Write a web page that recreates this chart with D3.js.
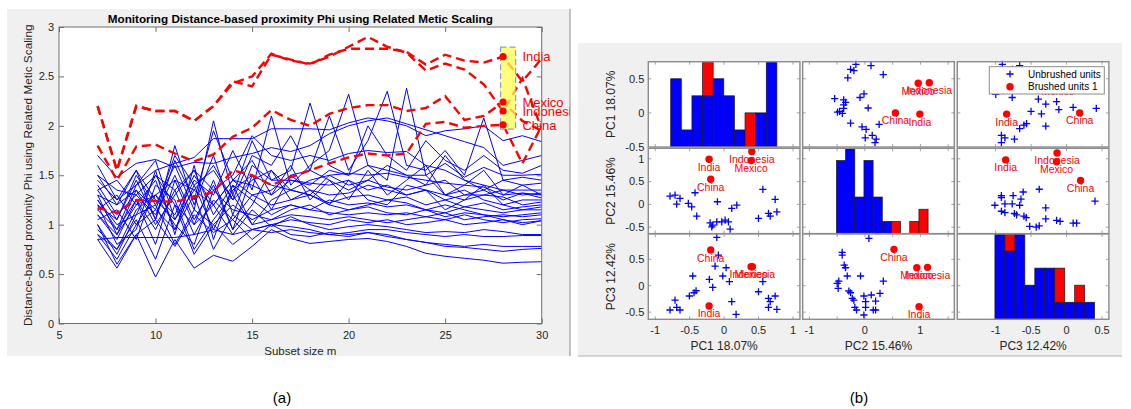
<!DOCTYPE html>
<html>
<head>
<meta charset="utf-8">
<script src="https://cdn.jsdelivr.net/npm/d3@7"></script>
<style>
  body { margin: 0; background: #fff; }
  text { font-family: "Liberation Sans", Arial, Helvetica, sans-serif; }
</style>
</head>
<body>
<svg id="fig" width="1131" height="409"></svg>
<script>
// ---------------- data: panel (a), forward search trajectories ----------------
const subsetSizes = [7, 8, 9, 10, 11, 12, 13, 14, 15, 16, 17, 18, 19, 20, 21, 22, 23, 24, 25, 26, 27, 28, 29, 30];

// unbrushed units (blue), one row per unit, values for m = 7..30
const unbrushedPhi = [
    [1.45,1.25,1.40,1.55,1.62,1.68,1.87,1.87,1.87,1.97,1.97,1.97,1.96,2.03,2.08,2.05,2.00,1.90,1.95,1.97,2.00,1.85,1.90,1.84],
    [1.70,1.48,1.62,1.66,1.58,1.63,1.62,1.68,1.72,1.78,1.74,1.80,1.92,2.00,2.05,2.08,2.02,1.96,1.90,1.84,1.78,1.60,1.65,1.70],
    [1.35,1.05,1.50,1.20,1.60,1.15,2.05,1.30,1.85,1.45,1.55,2.23,1.60,1.50,2.00,1.70,1.55,1.85,1.65,1.55,1.70,1.55,1.52,1.60],
    [1.25,0.95,1.40,1.65,1.05,1.45,1.30,1.75,1.35,2.10,1.40,1.60,1.75,2.32,1.60,1.45,2.38,1.50,1.62,1.48,1.58,1.50,1.50,1.51],
    [1.50,1.20,1.35,1.15,1.70,1.40,1.55,1.25,1.70,1.60,1.90,1.55,2.10,1.55,1.85,2.35,1.60,1.55,1.75,1.50,2.08,1.45,1.48,1.45],
    [1.40,1.10,1.30,1.50,1.35,1.55,1.35,1.50,1.90,1.70,1.65,1.70,1.65,1.72,1.75,1.73,1.74,1.60,1.55,1.45,1.40,1.35,1.35,1.35],
    [1.20,1.05,1.45,1.05,1.80,1.20,1.70,1.10,1.60,1.45,1.45,1.40,1.55,1.50,1.60,1.55,1.50,1.50,1.30,1.40,1.55,1.30,1.40,1.30],
    [1.30,0.90,1.20,1.45,0.95,1.40,0.95,1.35,1.50,1.40,1.35,1.30,1.50,1.40,1.45,1.38,1.35,1.40,1.45,1.30,1.35,1.25,1.32,1.27],
    [1.15,1.30,1.00,1.30,1.10,1.50,1.20,1.45,1.30,1.35,1.50,1.35,1.30,1.32,1.40,1.35,1.30,1.35,1.25,1.30,1.30,1.28,1.20,1.23],
    [1.10,0.85,1.25,0.95,1.35,0.90,1.25,1.05,1.30,1.20,1.25,1.30,1.22,1.28,1.30,1.25,1.28,1.20,1.25,1.18,1.22,1.15,1.18,1.20],
    [1.00,0.70,1.10,1.20,0.80,1.15,1.00,1.20,1.05,1.15,1.20,1.15,1.25,1.20,1.22,1.18,1.20,1.15,1.12,1.18,1.15,1.12,1.15,1.15],
    [0.95,0.75,1.15,1.30,1.00,0.80,1.35,1.15,1.10,1.05,1.15,1.20,1.10,1.15,1.18,1.12,1.10,1.15,1.08,1.12,1.10,1.08,1.10,1.12],
    [1.20,0.80,0.95,1.55,0.90,1.60,0.85,1.40,1.25,1.10,1.20,1.15,1.12,1.10,1.12,1.10,1.12,1.08,1.12,1.05,1.08,1.10,1.08,1.10],
    [1.05,1.15,0.85,1.40,1.25,0.75,1.05,1.30,1.00,1.05,1.10,1.08,1.05,1.08,1.05,1.02,1.05,1.08,1.05,1.10,1.05,1.02,1.05,1.06],
    [0.90,0.65,1.00,1.15,0.95,1.30,0.75,1.10,0.95,1.00,1.05,1.02,1.00,1.05,1.02,1.05,1.00,1.02,1.05,1.00,1.02,1.05,1.00,1.04],
    [1.15,0.95,1.25,0.80,1.45,1.00,1.20,0.90,1.15,0.98,1.08,1.00,0.95,0.98,1.00,0.98,0.95,0.92,0.93,0.92,0.95,0.93,0.90,0.90],
    [0.85,0.87,0.87,0.87,0.87,0.90,0.95,0.90,0.95,1.00,0.98,0.95,0.90,0.92,0.95,0.95,0.92,0.90,0.88,0.90,0.88,0.88,0.89,0.89],
    [1.00,0.60,0.90,1.05,0.78,1.10,0.92,1.05,0.85,1.00,0.90,0.88,0.92,0.90,0.92,0.88,0.85,0.82,0.80,0.78,0.80,0.78,0.78,0.78],
    [0.90,0.75,1.05,0.65,1.20,0.70,1.00,0.80,0.95,0.92,0.95,0.92,0.90,0.88,0.92,0.90,0.85,0.82,0.78,0.77,0.75,0.73,0.75,0.76],
    [0.85,0.56,0.90,0.47,0.85,0.56,0.69,0.63,0.78,0.95,0.86,0.81,0.83,0.85,0.86,0.83,0.78,0.71,0.68,0.66,0.64,0.61,0.62,0.625],
    [1.60,1.25,1.55,1.05,1.65,1.25,1.95,1.45,1.65,1.30,1.60,1.25,1.45,1.25,1.55,1.30,1.45,1.60,1.30,1.35,1.25,1.20,1.25,1.25],
    [1.25,1.00,1.10,1.50,1.20,1.00,1.45,0.95,1.20,1.55,1.25,1.35,1.20,1.45,1.25,1.20,1.40,1.35,1.15,1.25,1.40,1.20,1.15,1.18],
    [1.35,1.45,1.20,1.30,1.45,1.35,1.20,1.45,1.40,1.30,1.45,1.42,1.40,1.45,1.35,1.40,1.30,1.35,1.30,1.25,1.30,1.35,1.30,1.32],
    [1.10,0.90,1.35,1.00,1.30,1.55,1.10,1.40,1.00,1.25,1.35,1.30,1.20,1.15,1.20,1.25,1.22,1.15,1.20,1.15,1.10,1.05,1.02,1.04],
    [1.50,1.35,1.30,1.10,1.50,1.05,1.40,0.95,1.50,1.15,1.50,1.55,1.45,1.35,1.45,1.60,1.50,1.40,1.70,1.45,1.35,1.45,1.40,1.42],
    [1.30,1.20,1.55,1.25,1.05,1.35,1.60,1.25,1.45,1.55,1.35,1.45,1.50,1.52,1.50,1.52,1.48,1.45,1.42,1.40,1.38,1.30,1.32,1.30]
];

// brushed units (red dashed)
const brushedNames = ['India', 'Mexico', 'Indonesia', 'China'];
const indiaPhi     = [2.20,1.55,2.20,2.15,2.15,2.05,2.20,2.45,2.40,2.72,2.67,2.62,2.72,2.78,2.78,2.78,2.75,2.62,2.72,2.66,2.64,2.70,2.45,2.68];
const mexicoPhi    = [1.80,1.45,1.79,1.81,1.72,1.64,1.71,1.89,1.98,2.16,2.06,2.00,2.12,2.18,2.21,2.21,2.15,2.18,2.30,2.06,2.10,2.24,2.05,1.95];
const indonesiaPhi = [2.20,1.55,2.20,2.15,2.15,2.05,2.20,2.43,2.50,2.73,2.66,2.63,2.70,2.80,2.90,2.80,2.74,2.56,2.63,2.57,2.42,2.15,2.48,1.97];
const chinaPhi     = [1.17,1.12,1.25,1.24,1.23,1.28,1.33,1.55,1.50,1.40,1.48,1.55,1.62,1.68,1.72,1.70,1.72,2.02,2.04,1.98,2.00,2.01,1.62,2.00];
const brushStep = 28;
const brushRangeM = [27.87, 28.65];
const brushRangePhi = [1.966, 2.796];

// ---------------- data: panel (b), scatter matrix of principal components ----------------
const pcNames = ['PC1 18.07%', 'PC2 15.46%', 'PC3 12.42%'];

// [PC1, PC2] of the unbrushed units
const pc1pc2 = [[-0.785,0.182],[-0.712,0.204],[-0.688,0.006],[-0.640,0.132],[-0.519,0.022],[-0.470,-0.052],
    [-0.422,0.256],[-0.397,-0.258],[-0.203,-0.406],[-0.165,-0.456],[-0.179,-0.494],[-0.106,-0.382],[-0.097,0.058],
    [-0.034,-0.382],[0.015,-0.346],[0.063,-0.382],[0.087,-0.544],[0.111,-0.088],[0.184,-0.016],[0.562,0.330],
    [0.741,0.110],[0.499,-0.308],[0.644,-0.198],[0.669,-0.258],[0.766,-0.162]];
// [PC1, PC3]
const pc1pc3 = [[-0.106,0.917],[-0.083,0.581],[-0.131,0.373],[0.029,0.341],[-0.019,0.184],[0.077,0.076],
    [-0.214,0.121],[-0.165,-0.030],[-0.455,0.184],[-0.407,-0.095],[-0.436,-0.133],[-0.504,-0.195],[-0.712,-0.271],
    [-0.688,-0.409],[-0.785,-0.460],[-0.640,-0.460],[0.111,-0.303],[0.174,-0.542],[0.499,-0.114],[0.562,0.076],
    [0.644,-0.239],[0.669,-0.303],[0.741,-0.195],[0.644,-0.409],[0.766,-0.447]];
// [PC2, PC3]
const pc2pc3 = [[0.072,0.898],[-0.409,0.632],[-0.409,0.581],[-0.373,0.392],[-0.349,0.341],[-0.318,0.184],
    [-0.078,0.184],[-0.470,0.089],[-0.499,0.045],[-0.481,-0.049],[-0.289,-0.100],[-0.259,-0.133],[-0.228,-0.239],
    [-0.199,-0.271],[-0.181,-0.409],[-0.150,-0.460],[-0.018,-0.195],[0.115,-0.176],[0.013,-0.303],[0.193,-0.290],
    [0.272,-0.144],[0.332,0.089],[0.013,-0.409],[0.151,-0.460],[0.193,-0.460],[-0.018,-0.555]];

// brushed units, same order as brushedNames
const brushedPc1pc2 = [[-0.218,0.99],[0.392,0.96],[0.402,1.16],[-0.194,0.55]];
const brushedPc1pc3 = [[-0.218,-0.384],[0.392,0.36],[0.41,0.36],[-0.194,0.676]];
const brushedPc2pc3 = [[0.976,-0.398],[0.935,0.341],[1.128,0.348],[0.524,0.689]];

// histogram counts on the diagonal (10 bins each)
const histStart = [-0.775, -0.512, -1.01];
const histBinWidth = [0.1541, 0.165, 0.1405];
const histBlue = [[4,1,3,3,4,3,1,0,2,5], [6,7,3,6,3,1,0,0,0,0], [5,4,5,2,3,3,1,1,1,1]];
const histRed  = [[0,0,0,2,0,0,0,2,0,0], [0,0,0,0,0,0,1,0,1,2], [0,1,0,0,0,0,2,0,1,0]];

// ==========================================================================================
const svg = d3.select('#fig');
const defs = svg.append('defs');
const fmt = (d) => d3.format('~g')(d).replace('\u2212', '-');

// ---------------- panel (a) ----------------
const ax = {left: 59, right: 541.7, top: 27, bottom: 323.5};
const xA = d3.scaleLinear().domain([5, 30]).range([ax.left, ax.right]);
const yA = d3.scaleLinear().domain([0, 3]).range([ax.bottom, ax.top]);

const gA = svg.append('g');
gA.append('rect').attr('x', 7).attr('y', 9).attr('width', 563).attr('height', 347).attr('fill', '#f0f0f0');
gA.append('line').attr('x1', 570).attr('x2', 570).attr('y1', 9).attr('y2', 356)
    .attr('stroke', '#9c9c9c').attr('stroke-width', 1.2);
gA.append('rect').attr('x', ax.left).attr('y', ax.top)
    .attr('width', ax.right - ax.left).attr('height', ax.bottom - ax.top).attr('fill', '#fff');

defs.append('clipPath').attr('id', 'clipA').append('rect')
    .attr('x', ax.left).attr('y', ax.top).attr('width', ax.right - ax.left).attr('height', ax.bottom - ax.top);
defs.append('clipPath').attr('id', 'clipFigA').append('rect')
    .attr('x', 7).attr('y', 9).attr('width', 563).attr('height', 347);

const phiLine = d3.line().x((d, i) => xA(subsetSizes[i])).y((d) => yA(d));

gA.append('g').attr('clip-path', 'url(#clipA)')
    .selectAll('path').data(unbrushedPhi).join('path')
    .attr('d', phiLine).attr('fill', 'none')
    .attr('stroke', '#0000ff').attr('stroke-width', 1);

const brushedPhi = [indiaPhi, mexicoPhi, indonesiaPhi, chinaPhi];
gA.append('g').attr('clip-path', 'url(#clipA)')
    .selectAll('path').data(brushedPhi).join('path')
    .attr('d', phiLine).attr('fill', 'none')
    .attr('stroke', '#ff0000').attr('stroke-width', 2.4)
    .attr('stroke-dasharray', '9,5');

// brushed region (semi transparent, so the red shows orange beneath)
gA.append('rect')
    .attr('x', xA(brushRangeM[0])).attr('y', yA(brushRangePhi[1]))
    .attr('width', xA(brushRangeM[1]) - xA(brushRangeM[0]))
    .attr('height', yA(brushRangePhi[0]) - yA(brushRangePhi[1]))
    .attr('fill', '#ffff50').attr('fill-opacity', 0.75)
    .attr('stroke', '#8e9ad8').attr('stroke-width', 1.2).attr('stroke-dasharray', '6,3');

const stepIdx = subsetSizes.indexOf(brushStep);
gA.selectAll('circle.bdot').data(brushedPhi).join('circle').classed('bdot', true)
    .attr('cx', xA(brushStep)).attr('cy', (d) => yA(d[stepIdx])).attr('r', 3.6).attr('fill', '#ff0000');

gA.append('g').attr('clip-path', 'url(#clipFigA)')
    .selectAll('text').data(brushedPhi).join('text')
    .attr('x', xA(brushStep + 1)).attr('y', (d) => yA(d[stepIdx])).attr('dy', '0.36em')
    .attr('fill', '#ff0000').attr('font-size', 13)
    .text((d, i) => brushedNames[i]);

// axes, ticks pointing inwards on all four sides
function styleAxis(g) {
    g.select('.domain').remove();
    g.selectAll('.tick line').attr('stroke', '#6e6e6e');
    g.selectAll('.tick text').attr('fill', '#262626').attr('font-size', 11)
        .attr('font-family', '"Liberation Sans", Arial, sans-serif');
}
const xTicksA = [5, 10, 15, 20, 25, 30];
const yTicksA = [0, 0.5, 1, 1.5, 2, 2.5, 3];
gA.append('g').attr('transform', `translate(0,${ax.bottom})`)
    .call(d3.axisBottom(xA).tickValues(xTicksA).tickFormat(fmt).tickSize(-5).tickPadding(8)).call(styleAxis);
gA.append('g').attr('transform', `translate(0,${ax.top})`)
    .call(d3.axisTop(xA).tickValues(xTicksA).tickFormat('').tickSize(-5)).call(styleAxis);
gA.append('g').attr('transform', `translate(${ax.left},0)`)
    .call(d3.axisLeft(yA).tickValues(yTicksA).tickFormat(fmt).tickSize(-5).tickPadding(5)).call(styleAxis);
gA.append('g').attr('transform', `translate(${ax.right},0)`)
    .call(d3.axisRight(yA).tickValues(yTicksA).tickFormat('').tickSize(-5)).call(styleAxis);
gA.append('rect').attr('x', ax.left).attr('y', ax.top)
    .attr('width', ax.right - ax.left).attr('height', ax.bottom - ax.top)
    .attr('fill', 'none').attr('stroke', '#6e6e6e').attr('stroke-width', 1);

gA.append('text').attr('x', (ax.left + ax.right) / 2).attr('y', 22.5)
    .attr('text-anchor', 'middle').attr('font-weight', 'bold').attr('font-size', 11.7).attr('fill', '#000')
    .text('Monitoring Distance-based proximity Phi using Related Metic Scaling');
gA.append('text').attr('x', (ax.left + ax.right) / 2).attr('y', 355)
    .attr('text-anchor', 'middle').attr('font-size', 11.5).attr('fill', '#262626')
    .text('Subset size m');
gA.append('text').attr('transform', `translate(32,${(ax.top + ax.bottom) / 2}) rotate(-90)`)
    .attr('text-anchor', 'middle').attr('font-size', 11.8).attr('fill', '#262626')
    .text('Distance-based proximity Phi using Related Metic Scaling');

// ---------------- panel (b) ----------------
const gB = svg.append('g');
gB.append('rect').attr('x', 578).attr('y', 43).attr('width', 544).attr('height', 313).attr('fill', '#f0f0f0');
gB.append('line').attr('x1', 578).attr('x2', 1122).attr('y1', 356).attr('y2', 356)
    .attr('stroke', '#b4b4b4').attr('stroke-width', 1);

const colX = [648.3, 802.7, 957.3];
const rowY = [61.7, 148.3, 234];
const pw = 151.6, ph = 85.3;

const xScat = [
    d3.scaleLinear().domain([-1.1, 1.1]).range([colX[0], colX[0] + pw]),
    d3.scaleLinear().domain([-1.12, 1.61]).range([colX[1], colX[1] + pw]),
    d3.scaleLinear().domain([-1.1, 1.1]).range([colX[2], colX[2] + pw])
];
const yScat = [
    d3.scaleLinear().domain([-0.87, 0.82]).range([rowY[0] + ph, rowY[0]]),
    d3.scaleLinear().domain([-0.64, 1.23]).range([rowY[1] + ph, rowY[1]]),
    d3.scaleLinear().domain([-0.636, 0.98]).range([rowY[2] + ph, rowY[2]])
];
// diagonal (histogram) axes carry their own labelled scales
const yLabel0 = d3.scaleLinear().domain([-0.5, 0.75]).range([rowY[0] + ph, rowY[0]]);
const xLabel2 = d3.scaleLinear().domain([-1.54, 0.596]).range([colX[2], colX[2] + pw]);
const histX = [xScat[0], xScat[1], xLabel2];
const countMax = [5, 7, 5];

const rowLabelScale = [yLabel0, yScat[1], yScat[2]];
const rowTickVals = [[-0.5, 0, 0.5], [-0.5, 0, 0.5, 1], [-0.5, 0, 0.5]];
const colLabelScale = [xScat[0], xScat[1], xLabel2];
const colTickVals = [[-1, -0.5, 0, 0.5, 1], [-1, -0.5, 0, 0.5, 1, 1.5], [-1, -0.5, 0, 0.5]];
const colLabelVals = [[-1, -0.5, 0, 0.5, 1], [-1, 0, 1], [-1, -0.5, 0, 0.5]];

function plusPath(x, y) {
    const s = 3.6;
    return `M${x - s},${y}H${x + s}M${x},${y - s}V${y + s}`;
}

// pairs are [a, b]; plotted with x = column variable, y = row variable
function drawScatter(g, pairs, brushed, xs, ys, swap) {
    const px = (d) => xs(swap ? d[1] : d[0]);
    const py = (d) => ys(swap ? d[0] : d[1]);
    g.append('g').selectAll('path').data(pairs).join('path')
        .attr('d', (d) => plusPath(px(d), py(d)))
        .attr('stroke', '#0000ff').attr('stroke-width', 1.3).attr('fill', 'none');
    g.append('g').selectAll('circle').data(brushed).join('circle')
        .attr('cx', px).attr('cy', py).attr('r', 3.7).attr('fill', '#ff0000');
    g.append('g').selectAll('text').data(brushed).join('text')
        .attr('x', px).attr('y', (d) => py(d) + 11.5)
        .attr('text-anchor', 'middle').attr('font-size', 10.5).attr('fill', '#ff0000')
        .text((d, i) => brushedNames[i]);
}

function drawHist(g, k) {
    const xs = histX[k];
    const ys = d3.scaleLinear().domain([0, countMax[k]]).range([rowY[k] + ph, rowY[k]]);
    const bins = histBlue[k].map((b, i) => ({
        x0: histStart[k] + i * histBinWidth[k],
        x1: histStart[k] + (i + 1) * histBinWidth[k],
        blue: b, red: histRed[k][i]
    }));
    const cid = 'clipH' + k;
    defs.append('clipPath').attr('id', cid).append('rect')
        .attr('x', colX[k]).attr('y', rowY[k]).attr('width', pw).attr('height', ph);
    const gh = g.append('g').attr('clip-path', `url(#${cid})`);
    gh.selectAll('rect.hb').data(bins.filter((d) => d.blue > 0)).join('rect').classed('hb', true)
        .attr('x', (d) => xs(d.x0)).attr('width', (d) => xs(d.x1) - xs(d.x0))
        .attr('y', (d) => ys(d.blue)).attr('height', (d) => ys(0) - ys(d.blue))
        .attr('fill', '#0000ff').attr('stroke', '#1a1a1a').attr('stroke-width', 0.7);
    gh.selectAll('rect.hr').data(bins.filter((d) => d.red > 0)).join('rect').classed('hr', true)
        .attr('x', (d) => xs(d.x0)).attr('width', (d) => xs(d.x1) - xs(d.x0))
        .attr('y', (d) => ys(d.blue + d.red)).attr('height', (d) => ys(d.blue) - ys(d.blue + d.red))
        .attr('fill', '#ff0000').attr('stroke', '#1a1a1a').attr('stroke-width', 0.7);
}

const lowerData = {
    '1,0': [pc1pc2, brushedPc1pc2],
    '2,0': [pc1pc3, brushedPc1pc3],
    '2,1': [pc2pc3, brushedPc2pc3]
};

for (let r = 0; r < 3; r++) {
    for (let c = 0; c < 3; c++) {
        const g = gB.append('g');
        g.append('rect').attr('x', colX[c]).attr('y', rowY[r]).attr('width', pw).attr('height', ph)
            .attr('fill', '#fff');

        // small inward ticks on all sides
        const xs = colLabelScale[c], ys = rowLabelScale[r];
        const tk = g.append('g').attr('stroke', '#8a8a8a').attr('stroke-width', 0.8);
        colTickVals[c].forEach((v) => {
            const x = xs(v);
            if (x < colX[c] + 1 || x > colX[c] + pw - 1) return;
            tk.append('line').attr('x1', x).attr('x2', x).attr('y1', rowY[r] + ph).attr('y2', rowY[r] + ph - 3);
            tk.append('line').attr('x1', x).attr('x2', x).attr('y1', rowY[r]).attr('y2', rowY[r] + 3);
        });
        rowTickVals[r].forEach((v) => {
            const y = ys(v);
            if (y < rowY[r] + 1 || y > rowY[r] + ph - 1) return;
            tk.append('line').attr('x1', colX[c]).attr('x2', colX[c] + 3).attr('y1', y).attr('y2', y);
            tk.append('line').attr('x1', colX[c] + pw).attr('x2', colX[c] + pw - 3).attr('y1', y).attr('y2', y);
        });

        if (r === c) {
            drawHist(g, r);
        } else if (r > c) {
            const [pairs, brushed] = lowerData[`${r},${c}`];
            drawScatter(g, pairs, brushed, xScat[c], yScat[r], false);
        } else {
            const [pairs, brushed] = lowerData[`${c},${r}`];
            drawScatter(g, pairs, brushed, xScat[c], yScat[r], true);
        }

        g.append('rect').attr('x', colX[c]).attr('y', rowY[r]).attr('width', pw).attr('height', ph)
            .attr('fill', 'none').attr('stroke', '#8c8c8c').attr('stroke-width', 1.4);
    }
}

// tick labels and variable names
const labelStyle = (sel) => sel.attr('font-size', 11).attr('fill', '#262626');
for (let r = 0; r < 3; r++) {
    gB.append('g').selectAll('text').data(rowTickVals[r]).join('text')
        .attr('x', colX[0] - 4).attr('y', (d) => rowLabelScale[r](d)).attr('dy', '0.35em')
        .attr('text-anchor', 'end').call(labelStyle).text(fmt);
    gB.append('text')
        .attr('transform', `translate(${615},${rowY[r] + ph / 2}) rotate(-90)`)
        .attr('text-anchor', 'middle').attr('font-size', 12).attr('fill', '#262626')
        .text(pcNames[r]);
}
for (let c = 0; c < 3; c++) {
    gB.append('g').selectAll('text').data(colLabelVals[c]).join('text')
        .attr('x', (d) => colLabelScale[c](d)).attr('y', 334)
        .attr('text-anchor', 'middle').call(labelStyle).text(fmt);
    gB.append('text').attr('x', colX[c] + pw / 2).attr('y', 350)
        .attr('text-anchor', 'middle').attr('font-size', 12).attr('fill', '#262626')
        .text(pcNames[c]);
}

// legend in the top-right panel
const lg = gB.append('g');
lg.append('rect').attr('x', 989.3).attr('y', 66.7).attr('width', 115).attr('height', 27.3)
    .attr('fill', '#fff').attr('stroke', '#8c8c8c').attr('stroke-width', 1);
lg.append('path').attr('d', plusPath(1010, 74)).attr('stroke', '#0000ff').attr('stroke-width', 1.3);
lg.append('circle').attr('cx', 1010).attr('cy', 86.7).attr('r', 3.7).attr('fill', '#ff0000');
lg.append('text').attr('x', 1028).attr('y', 74).attr('dy', '0.35em').attr('font-size', 10).attr('fill', '#000')
    .text('Unbrushed units');
lg.append('text').attr('x', 1028).attr('y', 86.7).attr('dy', '0.35em').attr('font-size', 10).attr('fill', '#000')
    .text('Brushed units 1');

// sub-figure captions
svg.append('text').attr('x', 282).attr('y', 403).attr('text-anchor', 'middle')
    .attr('font-family', '"Liberation Serif", "Times New Roman", serif').attr('font-size', 15).text('(a)');
svg.append('text').attr('x', 859).attr('y', 403).attr('text-anchor', 'middle')
    .attr('font-family', '"Liberation Serif", "Times New Roman", serif').attr('font-size', 15).text('(b)');
</script>
</body>
</html>
